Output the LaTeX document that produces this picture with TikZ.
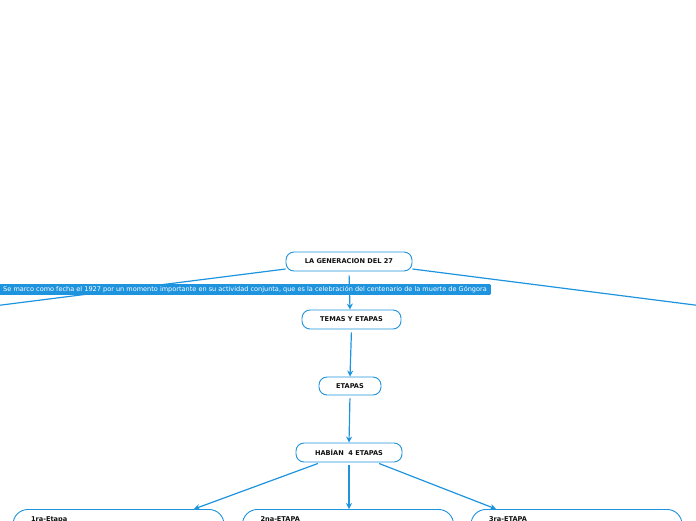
\documentclass[tikz,border=0pt]{standalone}
\usepackage{fontspec}
\setmainfont{DejaVu Sans}
\usepackage{tikz}
\usetikzlibrary{arrows.meta, positioning, calc}
\definecolor{gnBlue}{HTML}{1E93DE}
\definecolor{gnInk}{HTML}{111111}

\tikzset{
  topic/.style={draw=gnBlue, line width=0.9pt, rounded corners=8pt, fill=white,
                font=\fontsize{6.6}{8}\selectfont\bfseries, text=gnInk,
                minimum height=19pt, inner xsep=6pt},
  stagebox/.style={draw=gnBlue, line width=0.9pt, rounded corners=15pt, fill=white,
                font=\fontsize{6.6}{8}\selectfont\bfseries, text=gnInk, anchor=north,
                text width=175pt, align=left, inner xsep=18pt, inner ysep=7pt,
                text depth=60pt},
  link/.style={draw=gnBlue, line width=1.2pt},
  arrowlink/.style={link, -{Stealth[length=6pt,width=6pt]}},
  notebar/.style={fill=gnBlue, text=white, rounded corners=1pt,
                font=\fontsize{6.55}{8}\selectfont, inner xsep=4pt, inner ysep=2pt}
}

\begin{document}
\begin{tikzpicture}[x=1pt, y=-1pt]
  \useasboundingbox (0,0) rectangle (696,520);
  \clip (0,0) rectangle (696,520);

  % main topic and its children
  \node[topic, minimum width=126pt] (gen) at (349,261.5) {LA GENERACION DEL 27};
  \node[topic, minimum width=99pt] (temas) at (351.5,319.5) {TEMAS Y ETAPAS};
  \node[topic, minimum width=62pt, minimum height=18pt] (etapas) at (350,386) {ETAPAS};
  \node[topic, minimum width=106pt] (habian) at (349,452.5) {HAB\'IAN\ \ 4 ETAPAS};

  % the four stages (only the tops show)
  \node[stagebox, minimum width=211pt] (e1) at (118.5,509) {1ra-Etapa};
  \node[stagebox, minimum width=210pt] (e2) at (348,509) {2na-ETAPA};
  \node[stagebox, minimum width=211pt] (e3) at (576.5,509) {3ra-ETAPA};

  % branches leaving the page
  \coordinate (offleft) at (-30,309);
  \coordinate (offright) at (726,309);
  \draw[link] ([yshift=-7.5pt]gen.west) -- (offleft);
  \draw[link] ([yshift=-7.5pt]gen.east) -- (offright);

  \draw[arrowlink, shorten <=4pt] (gen.south) -- ([xshift=-1.5pt]temas.north);
  \draw[arrowlink, shorten <=3pt] (temas.south) -- (etapas.north);
  \draw[arrowlink, shorten <=3pt] (etapas.south) -- (habian.north);
  \draw[arrowlink] ([xshift=-31pt, yshift=-1pt]habian.south) -- ([xshift=75.5pt]e1.north);
  \draw[arrowlink, shorten <=3pt] (habian.south) -- ([xshift=1pt]e2.north);
  \draw[arrowlink] ([xshift=30pt, yshift=-1pt]habian.south) -- ([xshift=-80.5pt]e3.north);

  % note on the first connector
  \node[notebar] (note) at (245,289.5) {Se marco como fecha el 1927 por un momento importante en su actividad conjunta, que es la celebraci\'on del centenario de la muerte de G\'ongora};
\end{tikzpicture}
\end{document}
